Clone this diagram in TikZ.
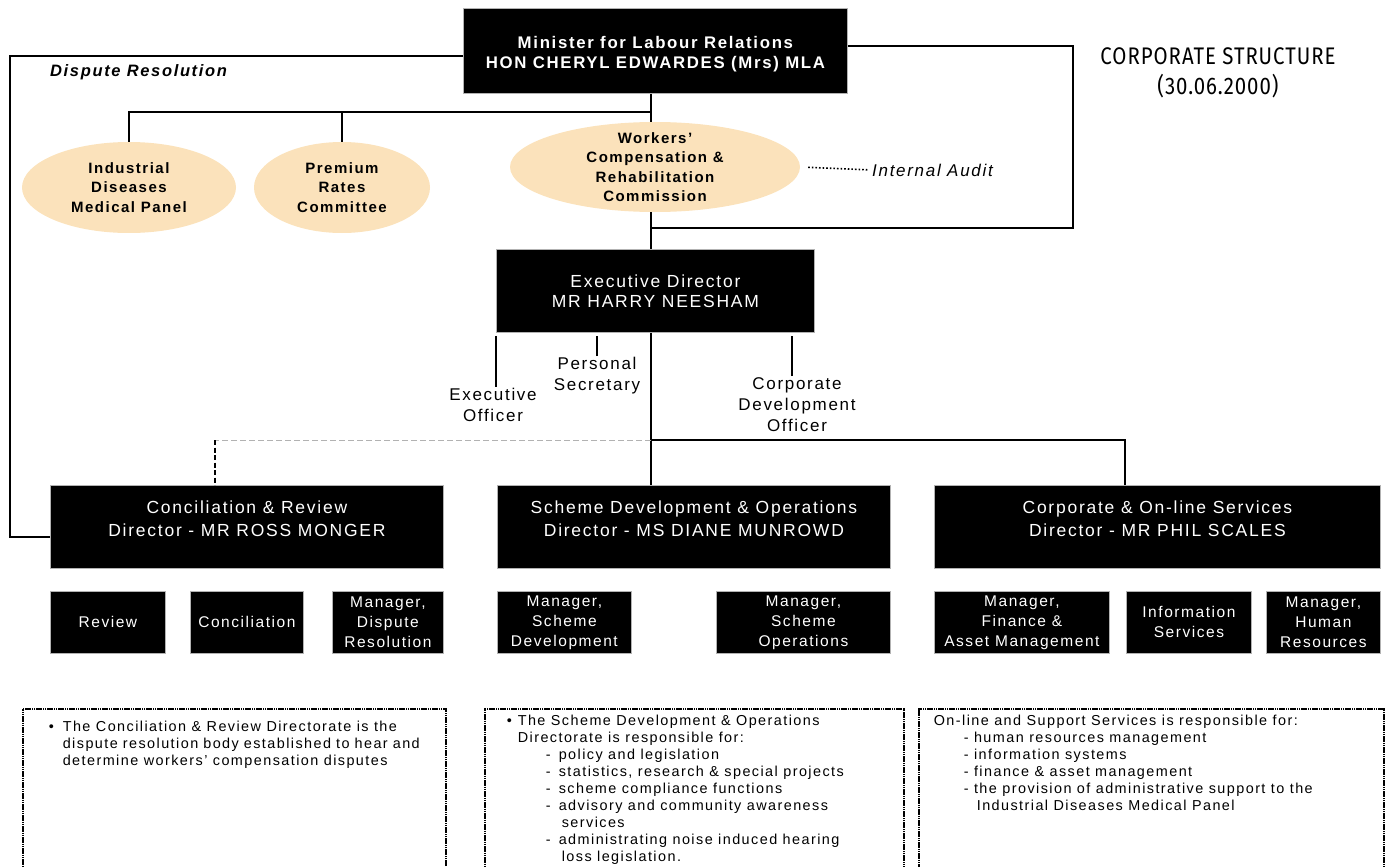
\documentclass[tikz,border=0pt]{standalone}
\usepackage{fontspec}
\setmainfont[LetterSpace=10]{Liberation Sans}
\newfontfamily\titlefont[FakeStretch=0.85,LetterSpace=4]{Fira Sans}
\usetikzlibrary{shapes.geometric}
\definecolor{peach}{RGB}{251,226,187}
\newcommand{\shiftlines}[2]{\raisebox{#1}[0pt][0pt]{\begin{tabular}{@{}c@{}}#2\end{tabular}}}

\begin{document}
\begin{tikzpicture}[x=1pt, y=-1pt,
    conn/.style={line width=1.3pt},
    blk/.style={fill=black, draw=gray!60, line width=0.8pt, text=white,
      inner sep=0pt, anchor=north west, align=center},
    dirbox/.style={fill=black, draw=gray!60, line width=0.8pt, text=white,
      inner sep=0pt, anchor=north west, minimum width=393, minimum height=83,
      font=\fontsize{17.5}{23}\selectfont},
    unit/.style={blk, minimum height=62, font=\fontsize{15.5}{20}\selectfont},
    oval/.style={ellipse, fill=peach, inner xsep=0pt, inner ysep=-12pt,
      align=center, font=\bfseries\fontsize{15}{19.5}\selectfont},
    aide/.style={align=center, inner sep=1pt, anchor=north,
      font=\fontsize{17}{21}\selectfont},
    note/.style={draw, line width=1.6pt, dash pattern=on 1.6pt off 0.6pt,
      anchor=north west, font=\fontsize{14.4}{17}\selectfont}]
  \useasboundingbox (0,0) rectangle (1400,867);
  \clip (0,0) rectangle (1400,867);

  % minister and title
  \node[blk, minimum width=384, minimum height=85,
    font=\bfseries\fontsize{16.8}{20}\selectfont] (min) at (463,8)
    {\shiftlines{-8pt}{Minister for Labour Relations\\HON CHERYL EDWARDES (Mrs) MLA}};
  \node[font=\titlefont\fontsize{24}{30}\selectfont, align=center] (ttl) at (1218,73)
    {CORPORATE STRUCTURE\\(30.06.2000)};
  \node[anchor=west, inner sep=0pt,
    font=\bfseries\itshape\fontsize{16.5}{19}\selectfont] (drl) at (50,72) {Dispute Resolution};

  % statutory bodies
  \node[oval, minimum width=214, minimum height=91] (idm) at (129,187.5)
    {Industrial\\Diseases\\Medical Panel};
  \node[oval, minimum width=176, minimum height=91] (prc) at (342,187.5)
    {Premium\\Rates\\Committee};
  \node[oval, minimum width=290, minimum height=90] (wcr) at (655,167)
    {Workers'\\Compensation \&\\Rehabilitation\\Commission};
  \node[anchor=west, inner sep=0pt, font=\itshape\fontsize{17}{20}\selectfont] (ia) at (872,170)
    {Internal Audit};

  % executive director and staff
  \node[blk, minimum width=318, minimum height=83,
    font=\fontsize{17.5}{20}\selectfont] (exd) at (496,249)
    {Executive Director\\MR HARRY NEESHAM};
  \node[aide] (eo) at (493,387) {Executive\\Officer};
  \node[aide] (ps) at (597,356) {Personal\\Secretary};
  \node[aide] (cdo) at (797,376) {Corporate\\Development\\Officer};

  % directorates
  \node[dirbox] (crd) at (50,485) {\shiftlines{2pt}{Conciliation \& Review\\Director - MR ROSS MONGER}};
  \node[dirbox] (sdo) at (497,485) {\shiftlines{2pt}{Scheme Development \& Operations\\Director - MS DIANE MUNROWD}};
  \node[dirbox, minimum width=446] (cos) at (934,485) {\shiftlines{2pt}{Corporate \& On-line Services\\Director - MR PHIL SCALES}};

  % branches
  \node[unit, minimum width=115] (rev) at (50,591) {Review};
  \node[unit, minimum width=113] (con) at (190,591) {Conciliation};
  \node[unit, minimum width=111] (mdr) at (332,591) {Manager,\\Dispute\\Resolution};
  \node[unit, minimum width=134] (msd) at (497,591) {Manager,\\Scheme\\Development};
  \node[unit, minimum width=174] (mso) at (716,591) {Manager,\\Scheme\\Operations};
  \node[unit, minimum width=175] (mfa) at (934,591) {Manager,\\Finance \&\\Asset Management};
  \node[unit, minimum width=125] (ins) at (1126,591) {Information\\Services};
  \node[unit, minimum width=114] (mhr) at (1266,591) {Manager,\\Human\\Resources};

  % notes
  \node[note, minimum width=423, inner xsep=26pt, inner ysep=12pt] (crn) at (22,708)
    {\parbox[t][170pt][t]{371pt}{\raggedright
      \makebox[14pt][l]{\textbullet}The Conciliation \& Review Directorate is the\\
      \hspace*{14pt}dispute resolution body established to hear and\\
      \hspace*{14pt}determine workers' compensation disputes}};
  \node[note, minimum width=419, inner xsep=22pt, inner ysep=6pt] (sdn) at (484,708)
    {\parbox[t][170pt][t]{375pt}{\raggedright
      \makebox[11pt][l]{\textbullet}The Scheme Development \& Operations\\
      \hspace*{11pt}Directorate is responsible for:\\
      \hspace*{39pt}\makebox[13pt][l]{-}policy and legislation\\
      \hspace*{39pt}\makebox[13pt][l]{-}statistics, research \& special projects\\
      \hspace*{39pt}\makebox[13pt][l]{-}scheme compliance functions\\
      \hspace*{39pt}\makebox[13pt][l]{-}advisory and community awareness\\
      \hspace*{55pt}services\\
      \hspace*{39pt}\makebox[13pt][l]{-}administrating noise induced hearing\\
      \hspace*{55pt}loss legislation.}};
  \node[note, minimum width=465, inner xsep=15pt, inner ysep=6pt] (cosn) at (918,708)
    {\parbox[t][170pt][t]{435pt}{\raggedright
      On-line and Support Services is responsible for:\\
      \hspace*{30pt}- human resources management\\
      \hspace*{30pt}- information systems\\
      \hspace*{30pt}- finance \& asset management\\
      \hspace*{30pt}- the provision of administrative support to the\\
      \hspace*{43pt}Industrial Diseases Medical Panel}};

  % reporting lines
  \coordinate (spn) at (651,0);
  \coordinate (br) at (651,112);
  \coordinate (lft) at (10,300);
  \coordinate (rgt) at (1073,228);
  \coordinate (jn) at (651,440);
  \coordinate (cdrop) at (1125,440);
  \coordinate (dsh) at (215,440);

  \draw[conn] ([yshift=-5pt]min.west) -| (lft) |- ([yshift=-10pt]crd.west);
  \draw[conn] ([yshift=5pt]min.east) -| (rgt) -- (rgt -| spn);
  \draw[conn] (min.south -| spn) -- (wcr.north -| spn);
  \draw[conn] (idm.north) |- (br);
  \draw[conn] (prc.north) -- (prc.north |- br);
  \draw[conn] (wcr.south -| spn) -- (exd.north -| spn);
  \draw[dotted, line width=1.6pt, shorten <=8pt, shorten >=3pt] (wcr.east) -- (ia.west);
  \draw[conn, shorten <=3pt] (exd.south west) -- (exd.south west |- eo.north);
  \draw[conn, shorten >=3pt] (ps.north) -- (ps.north |- exd.south);
  \draw[conn, shorten >=3pt] ([xshift=-5pt]cdo.north) -- ([xshift=-5pt]cdo.north |- exd.south);
  \draw[conn] (exd.south -| spn) -- (sdo.north -| spn);
  \draw[conn] (jn) -- (cdrop) -- (cdrop |- cos.north);
  \draw[gray!60, line width=1pt, dash pattern=on 6pt off 3pt] (jn) -- (dsh);
  \draw[line width=2.5pt, dash pattern=on 5pt off 2.5pt] (dsh) -- (dsh |- crd.north);
\end{tikzpicture}
\end{document}
